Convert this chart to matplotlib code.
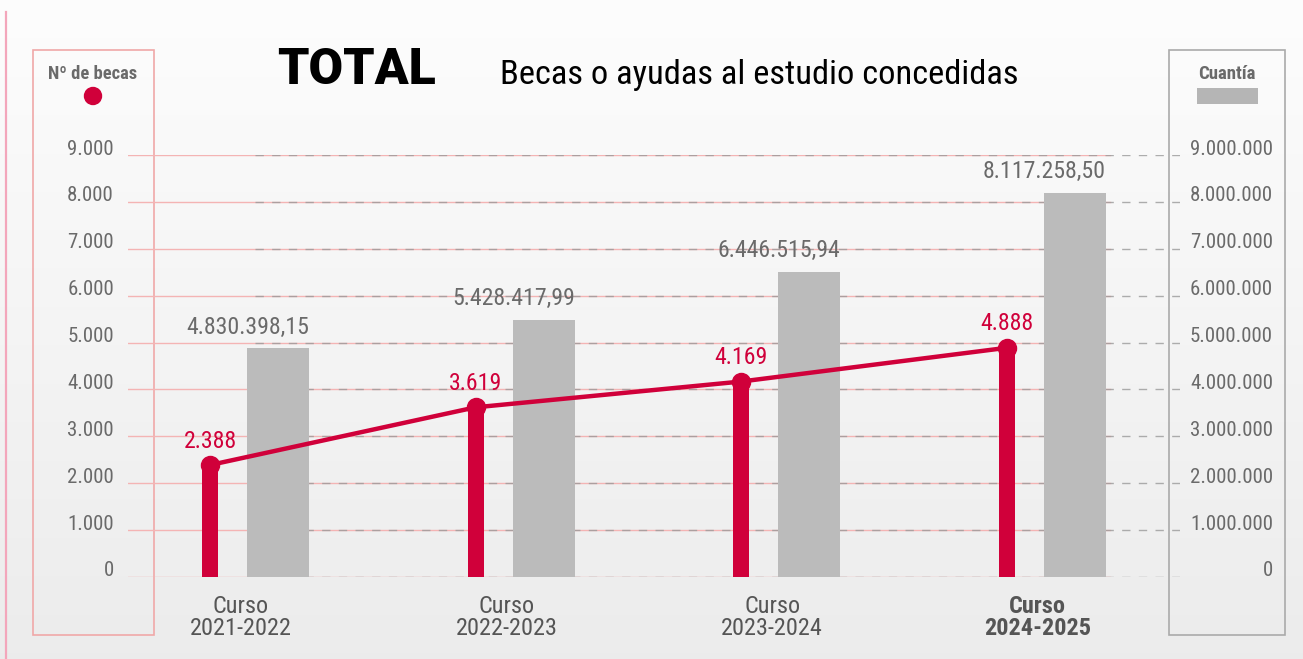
import matplotlib
matplotlib.use("Agg")
import matplotlib.pyplot as plt
import numpy as np
from matplotlib import font_manager
from matplotlib.patches import Rectangle, Circle
from matplotlib.transforms import blended_transform_factory, ScaledTranslation

# ---------------- data ----------------
categories = ["Curso\n2021-2022", "Curso\n2022-2023", "Curso\n2023-2024", "Curso\n2024-2025"]
becas = [2388, 3619, 4169, 4888]
cuantia = [4830398.15, 5428417.99, 6446515.94, 8117258.50]
becas_labels = ["2.388", "3.619", "4.169", "4.888"]
cuantia_labels = ["4.830.398,15", "5.428.417,99", "6.446.515,94", "8.117.258,50"]
left_ticks = [0, 1000, 2000, 3000, 4000, 5000, 6000, 7000, 8000, 9000]
left_tick_labels = ["0", "1.000", "2.000", "3.000", "4.000", "5.000", "6.000", "7.000", "8.000", "9.000"]
right_ticks = [0, 1e6, 2e6, 3e6, 4e6, 5e6, 6e6, 7e6, 8e6, 9e6]
right_tick_labels = ["0", "1.000.000", "2.000.000", "3.000.000", "4.000.000", "5.000.000",
                     "6.000.000", "7.000.000", "8.000.000", "9.000.000"]

# ---------------- fonts ----------------
avail = {f.name for f in font_manager.fontManager.ttflist}
FONT = "Roboto"
for cand in ["Roboto Condensed", "Liberation Sans Narrow", "Roboto"]:
    if cand in avail:
        FONT = cand
        break
plt.rcParams["font.family"] = [FONT, "DejaVu Sans"]

RED = "#d0003a"
GRAYBAR = "#bbbbbb"
TXT = "#6a6a6a"

W, H = 1303, 659
fig = plt.figure(figsize=(W / 100, H / 100), dpi=100)

# background gradient
bg = fig.add_axes([0, 0, 1, 1], zorder=-10)
grad = np.linspace(0, 1, 256).reshape(-1, 1)
top_c = np.array([0.992, 0.992, 0.992])
bot_c = np.array([0.925, 0.925, 0.925])
img = top_c + (bot_c - top_c) * grad[..., None]
img = np.repeat(img, 2, axis=1)
bg.imshow(img, aspect="auto", extent=[0, W, H, 0])
bg.set_xlim(0, W)
bg.set_ylim(H, 0)
bg.axis("off")

# left decorative line
bg.plot([6, 6], [12, H], color="#f3a6bb", lw=1.6)

# side boxes
bg.add_patch(Rectangle((33, 50), 121, 585, fill=False, ec="#f0a8a8", lw=1.2))
bg.add_patch(Rectangle((1169, 50), 116, 585, fill=False, ec="#aaaaaa", lw=1.2))
bg.text(93, 74, "Nº de becas", ha="center", va="center", fontsize=13.3,
        fontweight="bold", color=TXT)
bg.add_patch(Circle((93, 96), 8.5, color=RED))
bg.text(1227, 74, "Cuantía", ha="center", va="center", fontsize=13.5,
        fontweight="bold", color=TXT)
bg.add_patch(Rectangle((1197, 88), 61, 16, color="#b5b5b5", lw=0))

# title
bg.text(277, 71, "TOTAL", ha="left", va="center", fontsize=36, fontweight="black",
        color="black", family=["Roboto", "DejaVu Sans"])
bg.text(500, 75, "Becas o ayudas al estudio concedidas", ha="left", va="center",
        fontsize=24.8, color="black")

# ---------------- main axes ----------------
x0_px, dx_px = 244.0, 265.6
L_px, R_px = 128.0, 1180.0
xmin = (L_px - x0_px) / dx_px
xmax = (R_px - x0_px) / dx_px
y0_px, y9_px = 577.0, 155.0
ax = fig.add_axes([L_px / W, 1 - y0_px / H, (R_px - L_px) / W, (y0_px - y9_px) / H])
ax.set_xlim(xmin, xmax)
ax.set_ylim(0, 9000)
ax.axis("off")
ax2 = ax.twinx()
ax2.set_ylim(0, 8.91e6)
ax2.axis("off")
ax.set_zorder(3)
ax2.set_zorder(2)
ax.patch.set_visible(False)

x = np.arange(len(categories))
red_off = -34 / dx_px
gray_off = 34 / dx_px

# gridlines (on left scale, drawn behind bars)
pink_end = (1110 - x0_px) / dx_px
dash_start = (255 - x0_px) / dx_px
for t in left_ticks:
    ax2.plot([xmin, pink_end], [t, t], color="#f4b4b4", lw=1.0, zorder=0,
             transform=ax.transData)
    ax2.plot([dash_start, xmax], [t, t], color="#9a9a9a", lw=1.0,
             dashes=(6, 6), alpha=0.8, zorder=0, transform=ax.transData)

# gray bars (cuantia)
ax2.bar(x + gray_off, cuantia, width=62 / dx_px, color=GRAYBAR, zorder=2)
for xi, v, lab in zip(x, cuantia, cuantia_labels):
    ax2.annotate(lab, (xi + gray_off + 31 / dx_px, v), xytext=(0, 7),
                 textcoords="offset points", ha="right", va="bottom",
                 fontsize=17.2, color=TXT, annotation_clip=False)

# red bars + line (becas)
ax.bar(x + red_off, becas, width=16 / dx_px, color=RED, zorder=3)
ax.plot(x + red_off, becas, color=RED, lw=3.2, marker="o", ms=13, zorder=4,
        solid_capstyle="round")
for xi, v, lab in zip(x, becas, becas_labels):
    ax.annotate(lab, (xi + red_off, v), xytext=(0, 9), textcoords="offset points",
                ha="center", va="bottom", fontsize=17.2, color=RED,
                annotation_clip=False)

# tick labels
off = ScaledTranslation(0, 6 / 100, fig.dpi_scale_trans)
trL = blended_transform_factory(fig.transFigure, ax.transData) + off
for t, lab in zip(left_ticks, left_tick_labels):
    ax.text(114 / W, t, lab, transform=trL, ha="right", va="center",
            fontsize=15, color=TXT, clip_on=False)
for t, lab in zip(right_ticks, right_tick_labels):
    ax.text(1273 / W, t / 1000, lab, transform=trL, ha="right", va="center",
            fontsize=15, color=TXT, clip_on=False)

# category labels
for i, c in enumerate(categories):
    bold = i == len(categories) - 1
    ax.annotate(c, (x[i] - 3 / dx_px, 0), xytext=(0, -13), textcoords="offset points",
                ha="center", va="top", fontsize=17.5, color="#555555",
                fontweight="bold" if bold else "normal", linespacing=0.95,
                annotation_clip=False)

fig.savefig("out.png", dpi=100)
